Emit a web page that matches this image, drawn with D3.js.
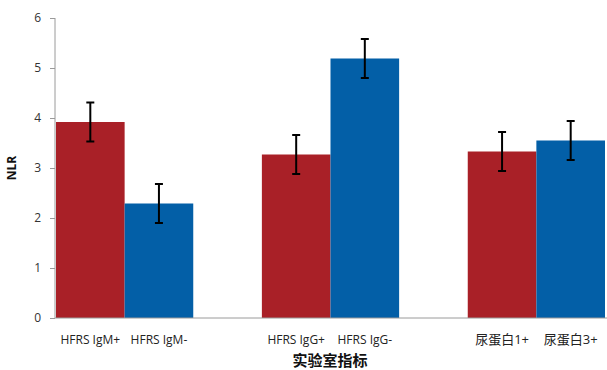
<!DOCTYPE html>
<html>
<head>
<meta charset="utf-8">
<script src="https://cdn.jsdelivr.net/npm/d3@7"></script>
<style>
  body { margin: 0; background: #fff; }
  svg { display: block; }
</style>
</head>
<body>
<div id="chart"></div>
<script>
// groups and their two bars
var groups = ["IgM", "IgG", "urine"];
var barLabels = [
    ["HFRS IgM+", "HFRS IgM-"],
    ["HFRS IgG+", "HFRS IgG-"],
    ["尿蛋白1+", "尿蛋白3+"]
];
var firstValues = [3.92, 3.27, 3.33];   // red bars
var secondValues = [2.29, 5.19, 3.55];  // blue bars
var firstErr = [0.39, 0.39, 0.39];
var secondErr = [0.39, 0.39, 0.39];
var yTicks = [0, 1, 2, 3, 4, 5, 6];

var width = 607, height = 370;
var colors = ["#A92027", "#035FA7"];

var svg = d3.select("#chart").append("svg")
    .attr("width", width)
    .attr("height", height);

var x0 = d3.scaleBand()
    .domain(groups)
    .range([56, 605])
    .paddingInner(1 / 3)
    .paddingOuter(0)
    .align(0);

var x1 = d3.scaleBand()
    .domain([0, 1])
    .range([0, x0.bandwidth()]);

var y = d3.scaleLinear()
    .domain([0, 6])
    .range([318, 18]);

// build rows from the arrays
var rows = [];
groups.forEach(function (g, i) {
    rows.push({ group: g, k: 0, value: firstValues[i], err: firstErr[i], label: barLabels[i][0] });
    rows.push({ group: g, k: 1, value: secondValues[i], err: secondErr[i], label: barLabels[i][1] });
});

// bars
svg.selectAll(".bar")
    .data(rows).enter()
    .append("rect")
    .attr("class", "bar")
    .attr("x", d => x0(d.group) + x1(d.k))
    .attr("width", x1.bandwidth())
    .attr("y", d => y(d.value))
    .attr("height", d => y(0) - y(d.value))
    .attr("fill", d => colors[d.k]);

// y axis
var yAxis = svg.append("g")
    .attr("transform", "translate(55,0)")
    .call(d3.axisLeft(y).tickValues(yTicks).tickSize(5).tickPadding(9).tickFormat(d3.format("d")));
yAxis.select(".domain").attr("stroke", "#9a9a9a").attr("d", "M0," + y(6) + "V" + y(0));
yAxis.selectAll(".tick line").attr("stroke", "#9a9a9a");
yAxis.selectAll(".tick text")
    .attr("fill", "#333")
    .style("font-family", "'Open Sans', 'Liberation Sans', sans-serif")
    .style("font-size", "12px");

// x baseline
svg.append("line")
    .attr("x1", 55).attr("x2", width)
    .attr("y1", y(0)).attr("y2", y(0))
    .attr("stroke", "#9a9a9a");

// error bars
var eb = svg.selectAll(".err")
    .data(rows).enter()
    .append("g")
    .attr("class", "err")
    .attr("stroke", "#000")
    .attr("stroke-width", 2);
var cx = d => x0(d.group) + x1(d.k) + x1.bandwidth() / 2;
eb.append("line")
    .attr("x1", cx).attr("x2", cx)
    .attr("y1", d => y(d.value + d.err)).attr("y2", d => y(d.value - d.err));
eb.append("line")
    .attr("x1", d => cx(d) - 4).attr("x2", d => cx(d) + 4)
    .attr("y1", d => y(d.value + d.err)).attr("y2", d => y(d.value + d.err));
eb.append("line")
    .attr("x1", d => cx(d) - 4).attr("x2", d => cx(d) + 4)
    .attr("y1", d => y(d.value - d.err)).attr("y2", d => y(d.value - d.err));

// category labels
svg.selectAll(".xlabel")
    .data(rows).enter()
    .append("text")
    .attr("class", "xlabel")
    .attr("x", cx)
    .attr("y", 344)
    .attr("text-anchor", "middle")
    .attr("fill", "#222")
    .style("font-family", "'Open Sans', 'Noto Sans CJK SC', sans-serif")
    .style("font-size", d => d.group == "urine" ? "13px" : "12px")
    .text(d => d.label);

// axis titles (reference crops this at the bottom edge; kept just inside)
svg.append("text")
    .attr("x", 330)
    .attr("y", 366)
    .attr("text-anchor", "middle")
    .attr("fill", "#111")
    .style("font-family", "'Noto Sans CJK SC', sans-serif")
    .style("font-weight", "bold")
    .style("font-size", "15px")
    .text("实验室指标");

svg.append("text")
    .attr("transform", "translate(16,168) rotate(-90)")
    .attr("text-anchor", "middle")
    .attr("fill", "#111")
    .style("font-family", "'Open Sans', sans-serif")
    .style("font-weight", "bold")
    .style("font-size", "12px")
    .text("NLR");
</script>
</body>
</html>
